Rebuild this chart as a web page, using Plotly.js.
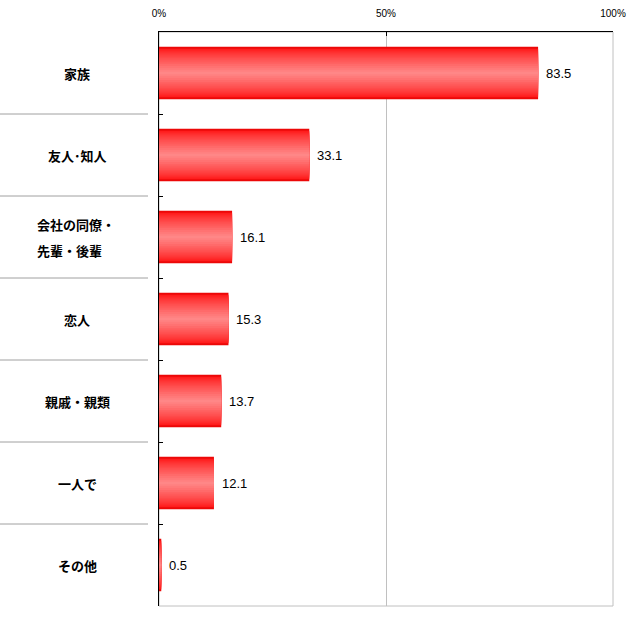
<!DOCTYPE html>
<html><head><meta charset="utf-8">
<script src="https://cdn.plot.ly/plotly-3.0.1.min.js"></script>
<style>html,body{margin:0;padding:0;background:#fff}#chart{width:643px;height:620px}</style>
</head><body><div id="chart"></div>
<script>
const categories = ["家族", "友人･知人", "会社の同僚・先輩・後輩", "恋人", "親戚・親類", "一人で", "その他"];
const values = [83.5, 33.1, 16.1, 15.3, 13.7, 12.1, 0.5];
const tickVals = [0, 50, 100];
const tickLabels = ["0%", "50%", "100%"];

const L = 159, R = 30, T = 32, B = 14, W = 643, H = 620;
const pw = W - L - R;
const px = p => (p - L) / pw;

// gradient simulation via overlaid layers (style only)
const nLayers = 14;
const traces = [];
for (let k = 0; k < nLayers; k++) {
  const t = k / (nLayers - 1);
  const w = 0.64 * (1 - t) + 0.03 * t;
  const g = Math.round(8 + (135 - 8) * Math.pow(t, 0.7));
  const r = k === 0 ? 236 : 255;
  traces.push({
    type: "bar", orientation: "h",
    x: values, y: categories, width: w,
    marker: {color: `rgb(${r},${g},${g})`, line: {width: 0}},
    hoverinfo: "skip", showlegend: false
  });
}

const annotations = [];
categories.forEach((c, i) => {
  annotations.push({
    x: values[i], y: c, xref: "x", yref: "y", text: values[i].toFixed(1),
    showarrow: false, xanchor: "left", xshift: 6,
    font: {family: "Liberation Sans, Arial, sans-serif", size: 13, color: "#000"}
  });
  if (c === "会社の同僚・先輩・後輩") {
    annotations.push({x: px(35), y: c, xref: "paper", yref: "y", text: "<b>会社の同僚・</b>",
      showarrow: false, xanchor: "left", yshift: 13,
      font: {family: "Noto Sans CJK JP, sans-serif", size: 13, color: "#000"}});
    annotations.push({x: px(35), y: c, xref: "paper", yref: "y", text: "<b>先輩・後輩</b>",
      showarrow: false, xanchor: "left", yshift: -13,
      font: {family: "Noto Sans CJK JP, sans-serif", size: 13, color: "#000"}});
  } else {
    annotations.push({x: px(77), y: c, xref: "paper", yref: "y", text: "<b>" + c + "</b>",
      showarrow: false, xanchor: "center",
      font: {family: "Noto Sans CJK JP, sans-serif", size: 13, color: "#000"}});
  }
});

const shapes = [{type: "rect", xref: "paper", yref: "paper", x0: 0, x1: 1, y0: 0, y1: 1,
  line: {color: "#c0c0c0", width: 1}, layer: "below"}];
for (let i = 0; i < categories.length - 1; i++) {
  shapes.push({type: "line", xref: "paper", yref: "y", x0: px(0), x1: px(148), y0: i + 0.5, y1: i + 0.5,
    line: {color: "#a0a0a0", width: 1}});
}

const layout = {
  width: W, height: H,
  margin: {l: L, r: R, t: T, b: B, pad: 0},
  paper_bgcolor: "#fff", plot_bgcolor: "#fff",
  barmode: "overlay",
  showlegend: false,
  xaxis: {
    side: "top", range: [0, 100], tickvals: tickVals, ticktext: tickLabels,
    ticks: "inside", ticklen: 4, tickcolor: "#000",
    showline: true, linecolor: "#000", linewidth: 1,
    showgrid: true, gridcolor: "#c0c0c0", gridwidth: 1, zeroline: false,
    ticklabelstandoff: 10,
    tickfont: {family: "Liberation Sans Narrow, Liberation Sans, Arial, sans-serif", size: 10, color: "#000"},
    fixedrange: true
  },
  yaxis: {
    type: "category", autorange: "reversed",
    showticklabels: false, ticks: "inside", tickson: "boundaries", ticklen: 4, tickcolor: "#000",
    showline: true, linecolor: "#000", linewidth: 1, showgrid: false, zeroline: false,
    fixedrange: true
  },
  annotations: annotations,
  shapes: shapes
};

Plotly.newPlot("chart", traces, layout, {displayModeBar: false, staticPlot: true});
</script></body></html>
